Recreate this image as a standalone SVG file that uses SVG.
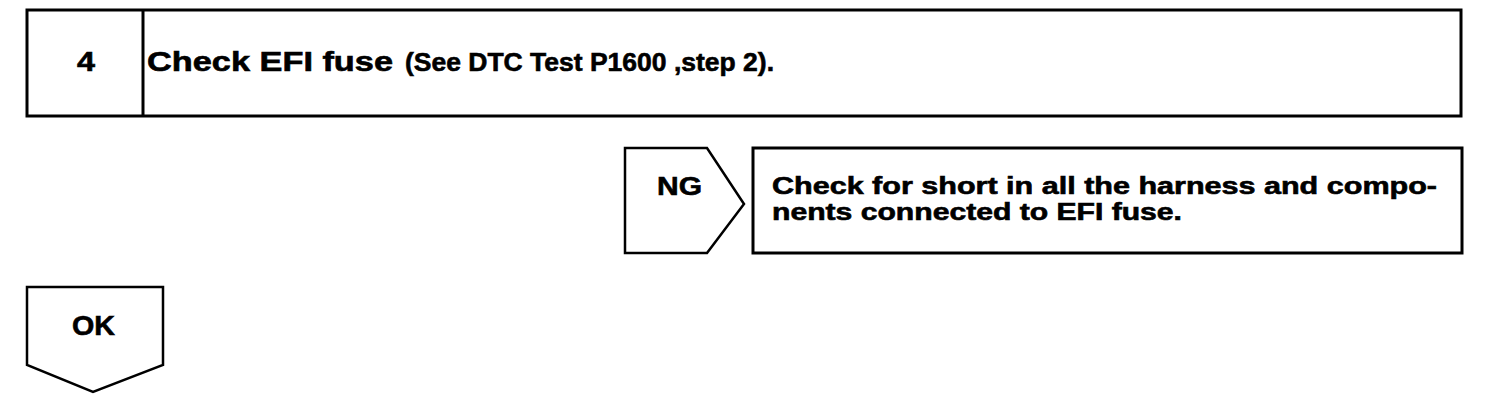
<svg xmlns="http://www.w3.org/2000/svg" width="1504" height="418" viewBox="0 0 1504 418">
<style>
.box{fill:#fff;stroke:#000;stroke-width:3;stroke-linejoin:miter}
.tag{fill:#fff;stroke:#000;stroke-width:2.5;stroke-linejoin:miter}
.t{font-family:"Liberation Sans",Arial,sans-serif;font-weight:bold;fill:#000;stroke:#000;stroke-width:0.6}
</style>
<rect width="1504" height="418" fill="#fff"/>
<g id="step4">
<rect class="box" x="27" y="10" width="1434" height="106"/>
<line x1="143" y1="10" x2="143" y2="116" stroke="#000" stroke-width="3"/>
<text class="t" x="77" y="71" font-size="27" textLength="18" lengthAdjust="spacingAndGlyphs">4</text>
<text class="t" x="147" y="71" font-size="27" textLength="246" lengthAdjust="spacingAndGlyphs">Check EFI fuse</text>
<text class="t" x="405" y="71" font-size="26" textLength="369" lengthAdjust="spacingAndGlyphs">(See DTC Test P1600 ,step 2).</text>
</g>
<g id="ng">
<polygon class="tag" points="625,148 707,148 744,204 707,253 625,253"/>
<text class="t" x="657" y="195" font-size="26" textLength="45" lengthAdjust="spacingAndGlyphs">NG</text>
</g>
<g id="ng-action">
<rect class="box" x="753" y="148" width="709" height="105"/>
<text class="t" x="772" y="194" font-size="23" textLength="665" lengthAdjust="spacingAndGlyphs">Check for short in all the harness and compo-</text>
<text class="t" x="772" y="220" font-size="23" textLength="410" lengthAdjust="spacingAndGlyphs">nents connected to EFI fuse.</text>
</g>
<g id="ok">
<polygon class="tag" points="27,287 163,287 163,365 93,392 27,365"/>
<text class="t" x="72" y="335" font-size="28" textLength="43" lengthAdjust="spacingAndGlyphs">OK</text>
</g>
<g id="connectors"></g>
</svg>
